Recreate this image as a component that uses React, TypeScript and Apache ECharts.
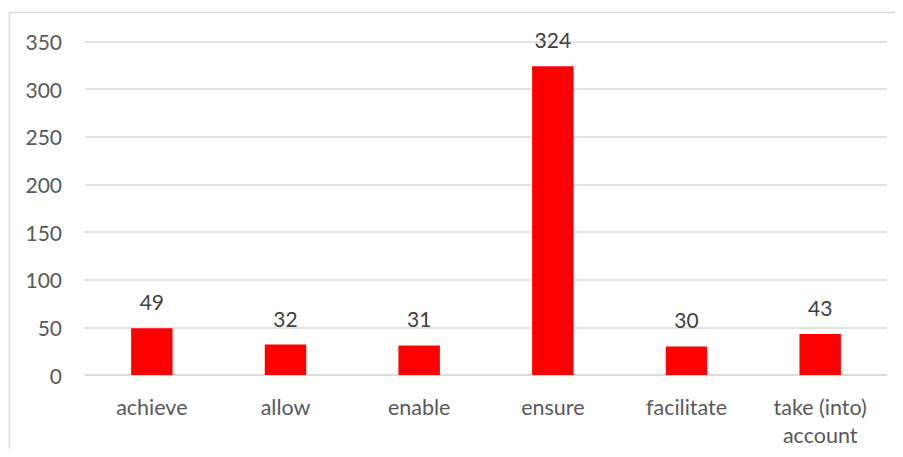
import React, { useEffect, useRef } from "react";
import * as echarts from "echarts";

const categories = ["achieve", "allow", "enable", "ensure", "facilitate", "take (into)\naccount"];
const counts = [49, 32, 31, 324, 30, 43];
const yTicks = { min: 0, max: 350, interval: 50 };

const FONT = "Lato, 'Open Sans', sans-serif";

export default function App() {
  const ref = useRef<HTMLDivElement>(null);

  useEffect(() => {
    if (!ref.current) return;
    const chart = echarts.init(ref.current, undefined, { renderer: "svg" });
    chart.setOption({
      animation: false,
      backgroundColor: "#ffffff",
      textStyle: { fontFamily: FONT },
      graphic: [
        {
          type: "rect",
          shape: { x: 9.5, y: 12.5, width: 910, height: 470 },
          style: { fill: "none", stroke: "#d9d9d9", lineWidth: 1.5 },
          silent: true,
          z: -1,
        },
      ],
      grid: { left: 85, right: 16, top: 41.5, bottom: 82, containLabel: false },
      xAxis: {
        type: "category",
        data: categories,
        axisLine: { show: true, lineStyle: { color: "#d9d9d9", width: 1.5 } },
        axisTick: { show: false },
        axisLabel: {
          color: "#595959",
          fontSize: 21.5,
          fontFamily: FONT,
          margin: 18,
          lineHeight: 28,
          interval: 0,
        },
      },
      yAxis: {
        type: "value",
        min: yTicks.min,
        max: yTicks.max,
        interval: yTicks.interval,
        axisLine: { show: false },
        axisTick: { show: false },
        splitLine: { lineStyle: { color: "#d9d9d9", width: 1.5 } },
        axisLabel: { color: "#595959", fontSize: 21, fontFamily: FONT, margin: 23 },
      },
      series: [
        {
          type: "bar",
          data: counts,
          barWidth: "31%",
          itemStyle: { color: "#ff0000" },
          label: {
            show: true,
            position: "top",
            distance: 16,
            color: "#404040",
            fontSize: 21,
            fontFamily: FONT,
          },
        },
      ],
    });
    return () => chart.dispose();
  }, []);

  return <div ref={ref} style={{ width: 903, height: 457, margin: -8 }} />;
}
